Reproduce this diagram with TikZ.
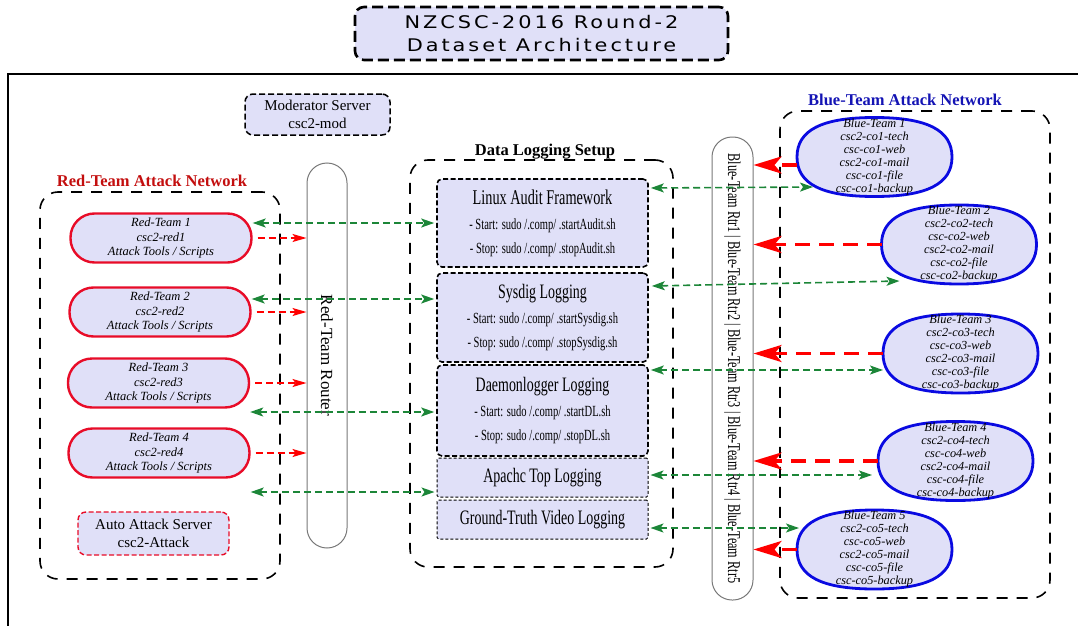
\documentclass[tikz,border=0pt]{standalone}
\usepackage{fontspec}
\setmainfont{Liberation Serif}
\newfontfamily\condserif[FakeStretch=0.68]{Liberation Serif}
\newfontfamily\headsans[FakeStretch=1.2,LetterSpace=17]{DejaVu Sans}
\usetikzlibrary{arrows.meta,calc}

\definecolor{lav}{RGB}{224,224,248}
\definecolor{linkgreen}{RGB}{28,134,56}
\definecolor{redline}{RGB}{232,12,40}
\definecolor{redlabel}{RGB}{195,14,14}
\definecolor{blueline}{RGB}{10,10,225}
\definecolor{bluelabel}{RGB}{20,20,180}
\definecolor{rtrgray}{RGB}{120,120,120}

\tikzset{
  netbox/.style={draw=black, line width=1.6pt, dash pattern=on 11pt off 9pt, rounded corners=18pt, inner sep=0pt},
  titlebox/.style={draw=black, fill=lav, line width=2.6pt, dash pattern=on 11pt off 5pt, rounded corners=9pt, align=center,
    minimum width=373pt, minimum height=53pt, inner sep=0pt, font=\headsans\fontsize{17.4}{23.5}\selectfont},
  modbox/.style={draw=black, fill=lav, line width=1.5pt, dash pattern=on 6pt off 3pt, rounded corners=8pt, align=center,
    minimum width=145pt, minimum height=41pt, inner sep=0pt, font=\fontsize{15}{18}\selectfont},
  autobox/.style={modbox, draw=redline, line width=1.4pt, dash pattern=on 5pt off 2.5pt, minimum width=151pt, minimum height=43pt},
  logbox/.style={draw=black, fill=lav, line width=1.6pt, dash pattern=on 5pt off 2.5pt, rounded corners=5pt, align=center,
    minimum width=211pt, inner sep=0pt, font=\condserif\fontsize{15.5}{24}\selectfont},
  thinlog/.style={logbox, line width=1pt, dash pattern=on 3pt off 2pt, rounded corners=1.5pt, minimum height=39pt,
    font=\condserif\fontsize{20.5}{24}\selectfont},
  redteam/.style={draw=redline, fill=lav, line width=2.4pt, rounded corners=24pt, minimum width=181pt, minimum height=49pt,
    align=center, inner sep=0pt, font=\itshape\fontsize{12.5}{14.5}\selectfont},
  ovalspot/.style={minimum width=155pt, minimum height=79pt, inner sep=0pt, outer sep=0pt},
  ovaledge/.style={draw=blueline, fill=lav, line width=2.8pt},
  ovaltext/.style={align=center, inner sep=0pt, font=\itshape\fontsize{12.3}{13}\selectfont},
  router/.style={draw=rtrgray, line width=1pt, rounded corners=20pt, inner sep=0pt},
  nethead/.style={anchor=base, font=\bfseries\fontsize{16.5}{18}\selectfont},
  gboth/.style={draw=linkgreen, line width=1.6pt, dash pattern=on 7pt off 4pt,
    {Stealth[length=13pt,width=9pt,inset=3pt]}-{Stealth[length=13pt,width=9pt,inset=3pt]}},
  redarr/.style={draw=red, line width=1.5pt, dash pattern=on 7pt off 4pt, -{Stealth[length=14pt,width=8pt,inset=3pt]}},
  bigred/.style={draw=red, line width=3.6pt, dash pattern=on 15pt off 9pt, -{Stealth[length=28pt,width=17pt,inset=7pt]}}
}

\newcommand{\ovalframe}[1]{%
  \filldraw[ovaledge] (#1.east)
    .. controls ($(#1.east)!0.68!(#1.north east)$) and ($(#1.north)!0.68!(#1.north east)$) .. (#1.north)
    .. controls ($(#1.north)!0.68!(#1.north west)$) and ($(#1.west)!0.68!(#1.north west)$) .. (#1.west)
    .. controls ($(#1.west)!0.68!(#1.south west)$) and ($(#1.south)!0.68!(#1.south west)$) .. (#1.south)
    .. controls ($(#1.south)!0.68!(#1.south east)$) and ($(#1.east)!0.68!(#1.south east)$) .. (#1.east) -- cycle;}

\begin{document}
\begin{tikzpicture}[x=1pt, y=-1pt]
  \useasboundingbox (0,0) rectangle (1078,626);

  \node[titlebox] (title) at (541.5,33.5) {NZCSC-2016 Round-2\\Dataset Architecture};
  \draw[line width=1.6pt] (1078,74) -- (8,74) -- (8,626);

  \node[modbox] (mod) at (317.5,114.5) {Moderator Server\\csc2-mod};

  % red team side
  \node[netbox, minimum width=240pt, minimum height=387pt] (rednet) at (160,385.5) {};
  \node[nethead, text=redlabel] (redhd) at (152,186) {Red-Team Attack Network};
  \foreach \i/\x/\y in {1/161/238, 2/160/312, 3/158.5/383, 4/159/453}
    \node[redteam] (rt\i) at (\x,\y) {Red-Team \i\\csc2-red\i\\Attack Tools / Scripts};
  \node[autobox] (auto) at (153.5,533.5) {Auto Attack Server\\csc2-Attack};

  \node[router, minimum width=40pt, minimum height=385pt] (rrtr) at (327,355.5)
    {\rotatebox{-90}{\fontsize{17}{20}\selectfont Red-Team Router}};

  % logging
  \node[netbox, minimum width=263pt, minimum height=407pt] (lognet) at (541.5,363.5) {};
  \node[nethead] (loghd) at (545,155) {Data Logging Setup};
  \node[logbox, minimum height=88pt] (la) at (542.5,223)
    {{\fontsize{21}{24}\selectfont Linux Audit Framework}\\[1pt]- Start: sudo /.comp/ .startAudit.sh\\- Stop: sudo /.comp/ .stopAudit.sh};
  \node[logbox, minimum height=89pt] (sy) at (542.5,317.5)
    {{\fontsize{20.5}{24}\selectfont Sysdig Logging}\\[1pt]- Start: sudo /.comp/ .startSysdig.sh\\- Stop: sudo /.comp/ .stopSysdig.sh};
  \node[logbox, minimum height=91pt] (dl) at (542.5,410.5)
    {{\fontsize{20.5}{24}\selectfont Daemonlogger Logging}\\[1pt]- Start: sudo /.comp/ .startDL.sh\\- Stop: sudo /.comp/ .stopDL.sh};
  \node[thinlog] (at) at (542.5,477.5) {Apachc Top Logging};
  \node[thinlog] (gt) at (542.5,519.5) {Ground-Truth Video Logging};

  % blue team side
  \node[router, minimum width=41pt, minimum height=463pt] (brtr) at (732.5,368.5)
    {\rotatebox{-90}{\condserif\fontsize{18}{20}\selectfont Blue-Team Rtr1 | Blue-Team Rtr2 | Blue-Team Rtr3 | Blue-Team Rtr4 | Blue-Team Rtr5}};
  \node[netbox, minimum width=270pt, minimum height=487pt] (bluenet) at (915,354.5) {};
  \node[nethead, text=bluelabel] (bluehd) at (905,105) {Blue-Team Attack Network};
  \foreach \i/\x/\y in {1/874.5/157, 2/959/244.5, 3/960.5/353.5, 4/955.5/461, 5/874.5/549.5} {
    \node[ovalspot] (bt\i) at (\x,\y) {};
    \ovalframe{bt\i}
    \node[ovaltext] (bt\i txt) at (bt\i) {Blue-Team \i\\csc2-co\i-tech\\csc-co\i-web\\csc2-co\i-mail\\csc-co\i-file\\csc-co\i-backup};
  }

  % links
  \foreach \i in {1,...,4}
    \draw[redarr] ([xshift=5pt]rt\i.east) -- (rt\i.east -| rrtr.west);

  \coordinate (la in) at (la.west);
  \coordinate (sy in) at ([yshift=18.5pt]sy.west);
  \coordinate (dl in) at ([yshift=-1.5pt]dl.west);
  \coordinate (at in) at ([yshift=-14.5pt]at.west);
  \draw[gboth] (rt1.east |- la in) -- ([xshift=-2pt]la in);
  \draw[gboth] (rt2.east |- sy in) -- ([xshift=-2pt]sy in);
  \draw[gboth] (rt3.east |- dl in) -- ([xshift=-2pt]dl in);
  \draw[gboth] (rt4.east |- at in) -- ([xshift=-2pt]at in);

  \coordinate (la out) at ([shift={(2pt,35pt)}]la.east);
  \coordinate (sy out) at ([shift={(3pt,31.5pt)}]sy.east);
  \coordinate (dl out) at ([shift={(2pt,40.5pt)}]dl.east);
  \coordinate (at out) at ([shift={(2pt,2.5pt)}]at.east);
  \coordinate (gt out) at ([shift={(2pt,-8.5pt)}]gt.east);
  \draw[gboth] (la out) -- ([shift={(16pt,9.5pt)}]bt1.south west);
  \draw[gboth] (sy out) -- ([shift={(18pt,3pt)}]bt2.south west);
  \draw[gboth] (dl out) -- (dl out -| bt3.west);
  \draw[gboth] (at out) -- ([xshift=-6pt]at out -| bt4.west);
  \draw[gboth] (gt out) -- ([xshift=2pt]gt out -| bt5.west);

  \draw[bigred] ([yshift=-8pt]bt1.west) -- ([yshift=-8pt]bt1.west -| brtr.east);
  \foreach \i in {2,...,5}
    \draw[bigred] (bt\i.west) -- (bt\i.west -| brtr.east);
\end{tikzpicture}
\end{document}
